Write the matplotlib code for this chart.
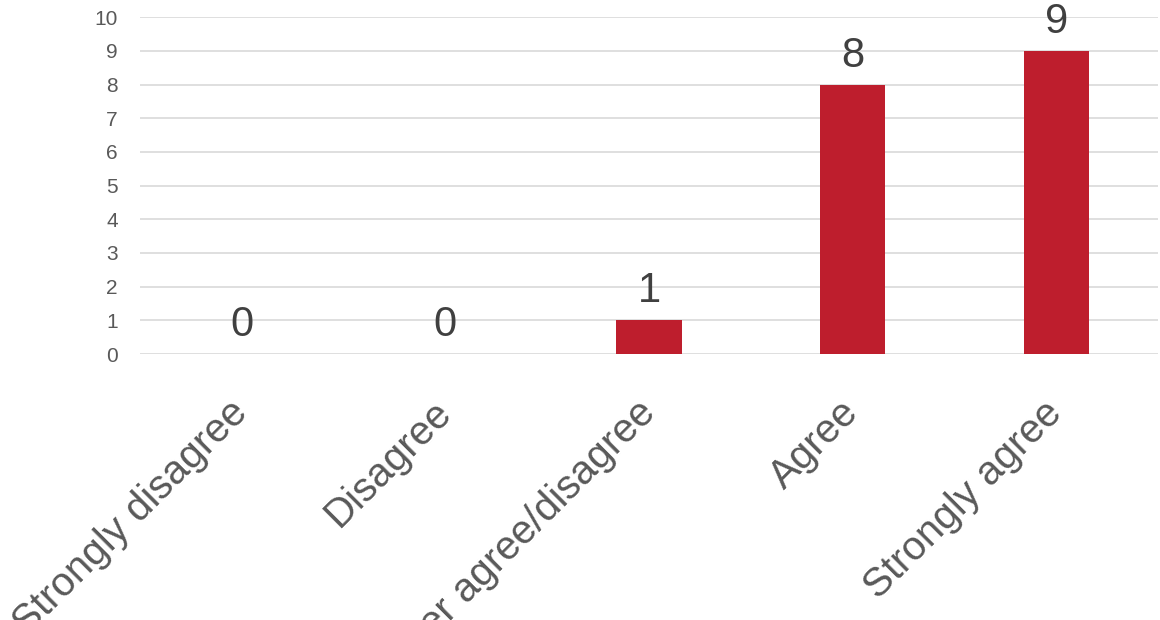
import matplotlib.pyplot as plt

# ── Data ──────────────────────────────────────────────────────────────────────
categories = ["Strongly disagree", "Disagree", "Neither agree/disagree",
              "Agree", "Strongly agree"]
counts = [0, 0, 1, 8, 9]
y_ticks = list(range(0, 11))

BAR_COLOR  = "#BE1E2D"
GRID_COLOR = "#D9D9D9"
TICK_COLOR = "#595959"
LABEL_COLOR = "#404040"

plt.rcParams["font.family"] = ["Liberation Sans", "DejaVu Sans"]

# ── Figure ────────────────────────────────────────────────────────────────────
W, H = 1160, 620
fig = plt.figure(figsize=(W / 100, H / 100), dpi=100)
ax = fig.add_axes([140 / W, (H - 354) / H, (1158 - 140) / W, (354 - 17.3) / H])

x = range(len(categories))
bars = ax.bar(x, counts, width=0.32, color=BAR_COLOR, zorder=3)

for xi, v in zip(x, counts):
    ax.annotate(str(v), (xi, v), xytext=(0, 13), textcoords="offset points",
                ha="center", va="baseline", fontsize=30, color=LABEL_COLOR,
                annotation_clip=False)

ax.set_xlim(-0.5, len(categories) - 0.5)
ax.set_ylim(0, 10)
ax.set_yticks(y_ticks)
ax.set_xticks(list(x))
ax.set_xticklabels(categories, rotation=45, ha="right", va="center",
                   rotation_mode="anchor", fontsize=29, color=TICK_COLOR)
ax.tick_params(axis="x", length=0, pad=38)
ax.tick_params(axis="y", length=0, pad=16, labelsize=15, labelcolor=TICK_COLOR)

ax.grid(axis="y", color=GRID_COLOR, linewidth=1.2, zorder=0)
for s in ax.spines.values():
    s.set_visible(False)

fig.savefig("out.png", dpi=100)
